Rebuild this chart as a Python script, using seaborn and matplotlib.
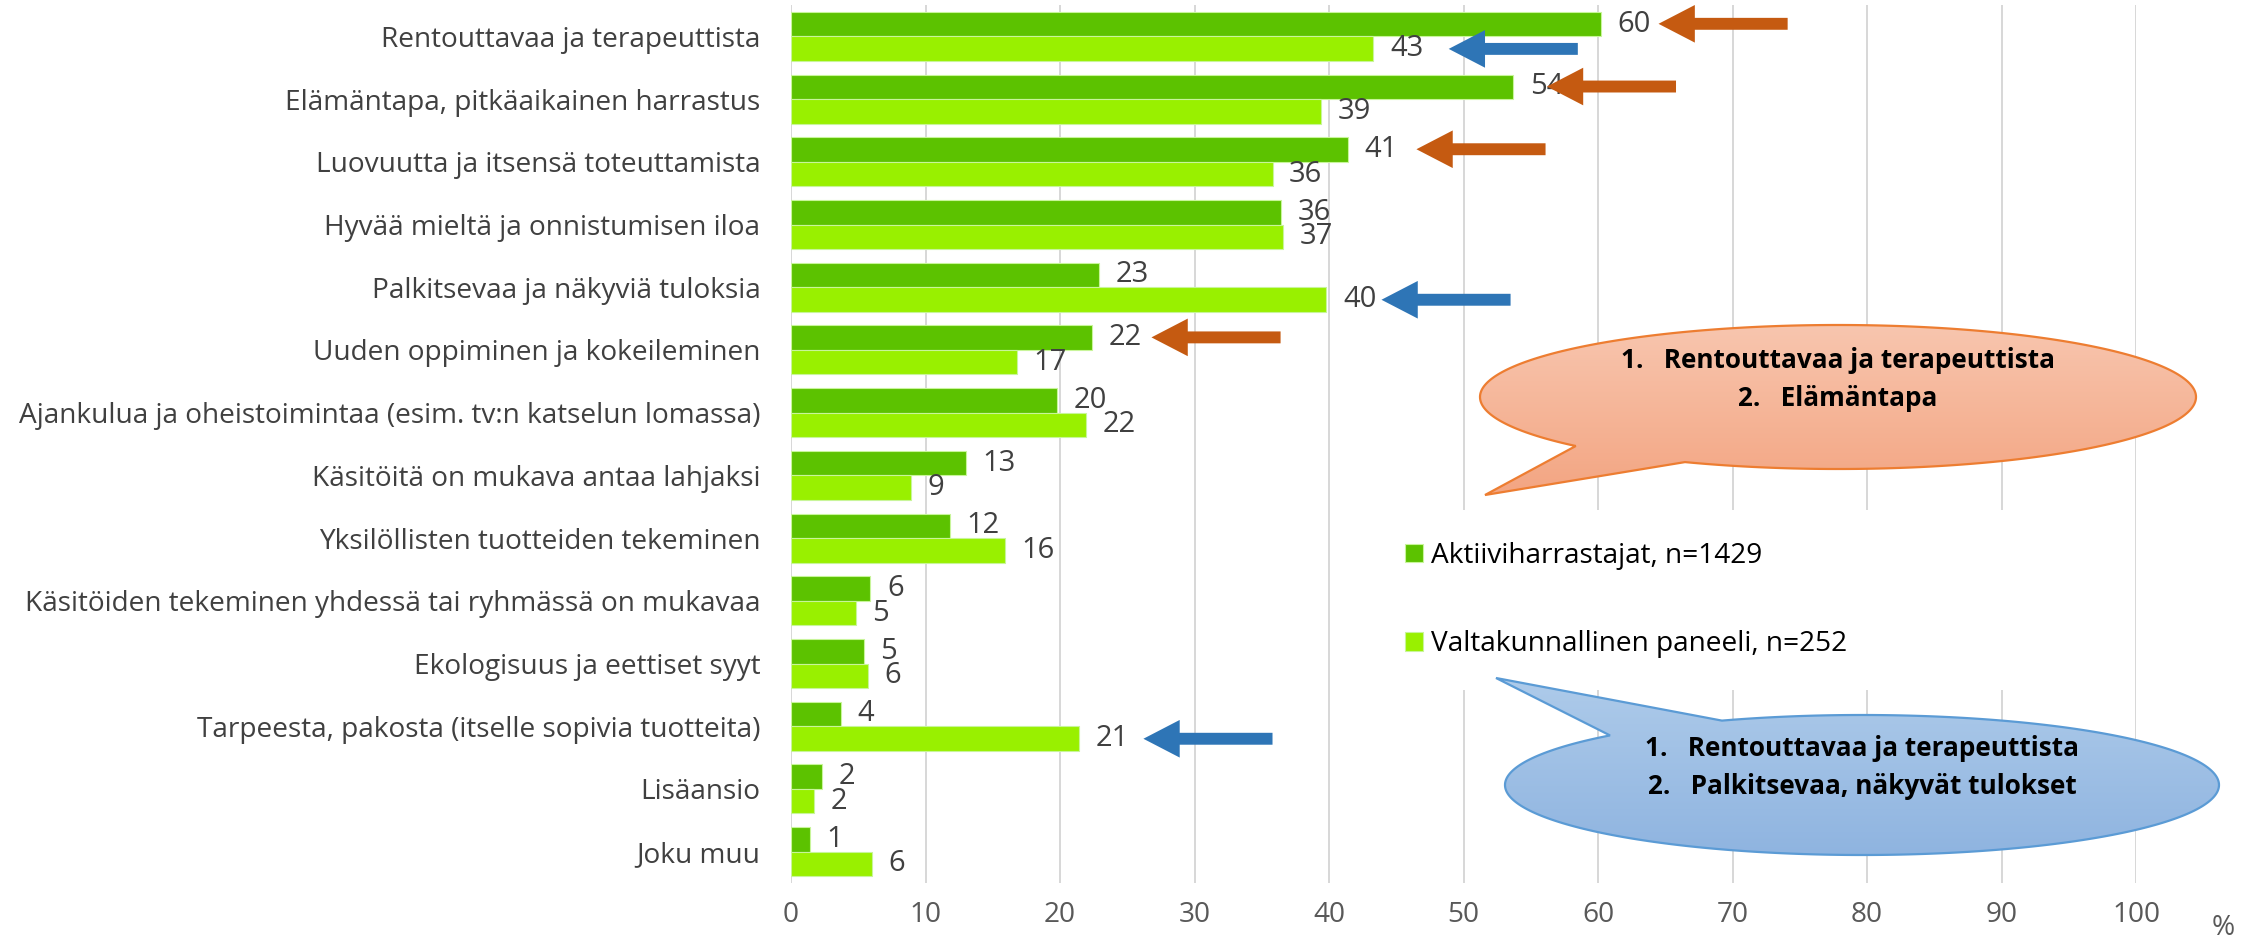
import numpy as np
import pandas as pd
import matplotlib
matplotlib.use("Agg")
import matplotlib.pyplot as plt
import seaborn as sns
from matplotlib.patches import Polygon, FancyArrow, Rectangle
from matplotlib.colors import LinearSegmentedColormap

categories = [
    "Rentouttavaa ja terapeuttista",
    "Elämäntapa, pitkäaikainen harrastus",
    "Luovuutta ja itsensä toteuttamista",
    "Hyvää mieltä ja onnistumisen iloa",
    "Palkitsevaa ja näkyviä tuloksia",
    "Uuden oppiminen ja kokeileminen",
    "Ajankulua ja oheistoimintaa (esim. tv:n katselun lomassa)",
    "Käsitöitä on mukava antaa lahjaksi",
    "Yksilöllisten tuotteiden tekeminen",
    "Käsitöiden tekeminen yhdessä tai ryhmässä on mukavaa",
    "Ekologisuus ja eettiset syyt",
    "Tarpeesta, pakosta (itselle sopivia tuotteita)",
    "Lisäansio",
    "Joku muu",
]
series_names = ["Aktiiviharrastajat, n=1429", "Valtakunnallinen paneeli, n=252"]
aktiivi = [60.2, 53.7, 41.4, 36.4, 22.9, 22.4, 19.8, 13.0, 11.8, 5.9, 5.4, 3.7, 2.3, 1.4]
paneeli = [43.3, 39.4, 35.8, 36.6, 39.8, 16.8, 21.9, 8.9, 15.9, 4.8, 5.7, 21.4, 1.7, 6.0]
xticks = list(range(0, 101, 10))

# highlight arrows: category index, series (0 = aktiivi, 1 = paneeli), arrow tip on x
arrow_rows = [0, 0, 1, 2, 4, 5, 11]
arrow_series = [0, 1, 0, 0, 1, 0, 1]
arrow_tips = [64.5, 48.9, 56.2, 46.5, 43.9, 26.8, 26.2]
arrow_colors = ["#C55A11", "#2E75B6", "#C55A11", "#C55A11", "#2E75B6", "#C55A11", "#2E75B6"]

orange_lines = ["1.   Rentouttavaa ja terapeuttista", "2.   Elämäntapa"]
blue_lines = ["1.   Rentouttavaa ja terapeuttista", "2.   Palkitsevaa, näkyvät tulokset"]

DARK = "#5CC200"
LIGHT = "#99F000"
W, H = 2256, 941
FS = 20.2

sns.set_theme(style="white")
plt.rcParams["font.family"] = ["Open Sans", "DejaVu Sans"]

fig = plt.figure(figsize=(W / 100, H / 100), dpi=100)
ax = fig.add_axes([791 / W, 1 - 883 / H, (2136 - 791) / W, (883 - 5) / H])

df = pd.DataFrame({
    "kategoria": categories * 2,
    "ryhma": [series_names[0]] * len(categories) + [series_names[1]] * len(categories),
    "osuus": aktiivi + paneeli,
})
sns.barplot(data=df, y="kategoria", x="osuus", hue="ryhma", orient="h",
            palette=[DARK, LIGHT], saturation=1, width=0.78, gap=0,
            errorbar=None, ax=ax, edgecolor="#C8F59A", linewidth=0.8)

for cont in ax.containers:
    ax.bar_label(cont, fmt="%.0f", padding=12, fontsize=21, color="#404040")

ax.set_xlim(0, 100)
ax.set_ylim(len(categories) - 0.5, -0.5)
ax.set_xticks(xticks)
ax.set_xlabel("")
ax.set_ylabel("")
ax.xaxis.grid(True, color="#D4D4D4", linewidth=1.3)
ax.set_axisbelow(True)
for s in ax.spines.values():
    s.set_visible(False)
ax.tick_params(axis="y", length=0, pad=22, labelsize=FS, labelcolor="#404040")
ax.tick_params(axis="x", length=0, pad=13, labelsize=FS, labelcolor="#595959")

handles, labels = ax.get_legend_handles_labels()
ax.get_legend().remove()

# arrows pointing at chosen bars
for r, s, tip, col in zip(arrow_rows, arrow_series, arrow_tips, arrow_colors):
    yy = r - 0.2 if s == 0 else r + 0.2
    ax.add_patch(FancyArrow(tip + 9.6, yy, -9.6, 0, width=0.19, head_width=0.6,
                            head_length=2.7, length_includes_head=True,
                            color=col, lw=0, zorder=4, clip_on=False))

# overlay in pixel coordinates for legend and callouts
ov = fig.add_axes([0, 0, 1, 1])
ov.patch.set_alpha(0)
ov.axis("off")

ov.add_patch(Rectangle((1400, 510), 680, 180, fc="white", ec="none", zorder=1))
ov.legend(handles, labels, loc="center left", bbox_to_anchor=(1405, 600),
          bbox_transform=ov.transData, frameon=False, fontsize=FS,
          handlelength=0.64, handleheight=0.64, handletextpad=0.3,
          labelspacing=2.15, borderpad=0, borderaxespad=0, labelcolor="black")


def bubble(cx, cy, a, b, ta, tb, tip, c_top, c_bot, edge, lines, ys):
    t = np.radians(np.linspace(ta, tb + 360, 300))
    pts = np.column_stack([cx + a * np.cos(t), cy + b * np.sin(t)])
    pts = np.vstack([pts, tip])
    poly = Polygon(pts, closed=True, fc="none", ec=edge, lw=1.6, zorder=3)
    ov.add_patch(poly)
    cmap = LinearSegmentedColormap.from_list("g", [c_top, c_bot])
    y0 = min(cy - b, tip[1])
    y1 = max(cy + b, tip[1])
    im = ov.imshow(np.linspace(0, 1, 256).reshape(-1, 1), cmap=cmap, aspect="auto",
                   extent=[min(cx - a, tip[0]), cx + a, y1, y0], zorder=2,
                   interpolation="bicubic")
    im.set_clip_path(poly)
    for line, y in zip(lines, ys):
        ov.text(cx, y, line, ha="center", va="center", fontsize=18.8,
                fontweight="bold", color="black", zorder=4)


bubble(1838, 397, 358, 72, 137.1, 115.3, (1485, 495),
       "#F8C6AF", "#F3A582", "#ED7D31", orange_lines, [360, 398])
bubble(1862, 785, 357, 70, 246.9, 225.1, (1496, 678),
       "#AECBEA", "#8FB4E0", "#5B9BD5", blue_lines, [748, 787])

ov.text(2212, 928, "%", ha="left", va="center", fontsize=FS, color="#595959")

ov.set_xlim(0, W)
ov.set_ylim(H, 0)

fig.savefig("out.png", dpi=100)
